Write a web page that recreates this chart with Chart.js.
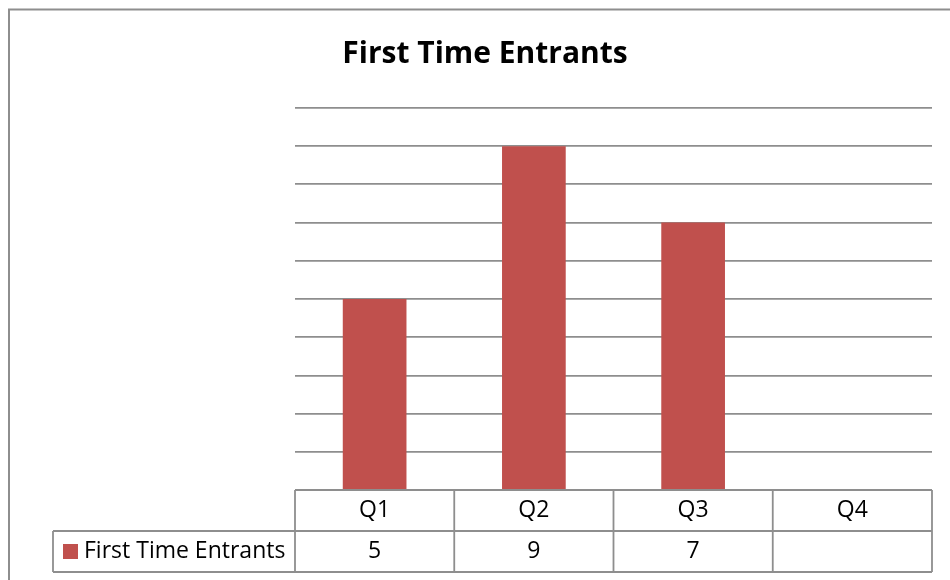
<!DOCTYPE html>
<html>
<head>
<meta charset="utf-8">
<script src="https://cdn.jsdelivr.net/npm/chart.js@4"></script>
<style>
  html, body { margin: 0; padding: 0; background: #fff; }
  #wrap { width: 950px; height: 580px; position: relative; }
</style>
</head>
<body>
<div id="wrap"><canvas id="c" width="950" height="580"></canvas></div>
<script>
const chartTitle = 'First Time Entrants';
const categories = ['Q1', 'Q2', 'Q3', 'Q4'];
const seriesName = 'First Time Entrants';
const entrants = [5, 9, 7, null];
const yMin = 0;
const yMax = 10;
const yStep = 1;

const FONT = '"Open Sans", Lato, sans-serif';
const GRID = '#8e8e8e';
const BAR = '#C0504D';

const frameAndTable = {
  id: 'frameAndTable',
  afterDraw(chart) {
    const ctx = chart.ctx;
    const x = chart.scales.x;
    const area = chart.chartArea;
    ctx.save();
    ctx.strokeStyle = GRID;
    ctx.lineWidth = 2;
    ctx.beginPath();
    ctx.moveTo(9, 600);
    ctx.lineTo(9, 9.5);
    ctx.lineTo(960, 9.5);
    ctx.stroke();

    const rowH = 41;
    const top = area.bottom;
    const mid = top + rowH;
    const bot = mid + rowH;
    const colW = (x.right - x.left) / categories.length;
    const legendLeft = 53;
    ctx.lineWidth = 1.8;
    ctx.strokeStyle = GRID;
    ctx.beginPath();
    ctx.moveTo(x.left, top); ctx.lineTo(x.right, top);
    ctx.moveTo(legendLeft, mid); ctx.lineTo(x.right, mid);
    ctx.moveTo(legendLeft, bot); ctx.lineTo(x.right, bot);
    ctx.moveTo(legendLeft, mid); ctx.lineTo(legendLeft, bot);
    for (let i = 0; i <= categories.length; i++) {
      const px = x.left + i * colW;
      ctx.moveTo(px, top); ctx.lineTo(px, bot);
    }
    ctx.stroke();

    ctx.fillStyle = '#000';
    ctx.font = '23px ' + FONT;
    ctx.textAlign = 'center';
    ctx.textBaseline = 'middle';
    categories.forEach((c, i) => {
      const cx = x.getPixelForValue(i);
      ctx.fillText(c, cx, top + rowH / 2);
      const v = entrants[i];
      if (v !== null && v !== undefined) ctx.fillText(String(v), cx, mid + rowH / 2);
    });
    ctx.fillStyle = BAR;
    ctx.fillRect(63, mid + rowH / 2 - 7.5, 15, 15);
    ctx.fillStyle = '#000';
    ctx.textAlign = 'left';
    ctx.fillText(seriesName, 84, mid + rowH / 2);
    ctx.restore();
  }
};

new Chart(document.getElementById('c'), {
  type: 'bar',
  data: {
    labels: categories,
    datasets: [{
      label: seriesName,
      data: entrants,
      backgroundColor: BAR,
      borderWidth: 0,
      categoryPercentage: 1,
      barPercentage: 0.4
    }]
  },
  options: {
    responsive: false,
    animation: false,
    layout: { padding: { left: 38, right: 18, top: 0, bottom: 0 } },
    plugins: {
      legend: { display: false },
      tooltip: { enabled: false },
      title: {
        display: true,
        text: chartTitle,
        color: '#000',
        font: { family: FONT, size: 30, weight: 'bold', lineHeight: 1.2 },
        padding: { top: 36, bottom: 36 }
      }
    },
    scales: {
      x: {
        grid: { display: false, drawTicks: false },
        border: { display: false },
        ticks: { display: false },
        afterFit(s) { s.height = 90; }
      },
      y: {
        min: yMin,
        max: yMax,
        ticks: { display: false, stepSize: yStep },
        grid: { color: GRID, lineWidth: 1.8, drawTicks: false },
        border: { display: false },
        afterFit(s) { s.width = 257; }
      }
    }
  },
  plugins: [frameAndTable]
});
</script>
</body>
</html>
